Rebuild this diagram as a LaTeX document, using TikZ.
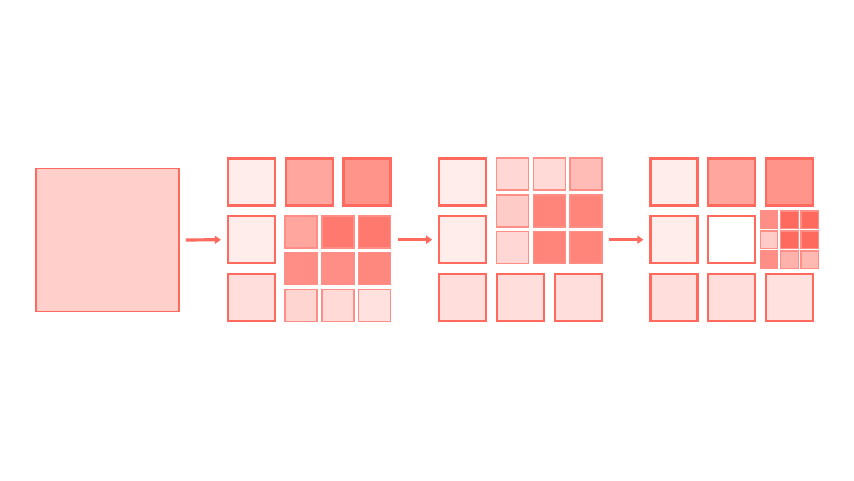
\documentclass[tikz,border=0pt]{standalone}
\usepackage{tikz}
\usetikzlibrary{arrows.meta}
\definecolor{coral}{HTML}{FF6A5E}

\begin{document}
\begin{tikzpicture}[x=1pt, y=-1pt,
    cell/.style={draw=coral, line width=2.2pt, minimum size=47pt, inner sep=0pt},
    subcell/.style={draw=coral!75, line width=1.4pt, minimum size=32pt, inner sep=0pt},
    tinycell/.style={draw=coral!75, line width=1.3pt, minimum size=17.5pt, inner sep=0pt},
    flow/.style={draw=coral, line width=3.2pt, -{Triangle[length=6pt,width=8pt]}, shorten <=6pt, shorten >=6pt}]
    \useasboundingbox (0,0) rectangle (854,480);
    % input block
    \node[draw=coral, line width=1.9pt, fill=coral!32, minimum size=143pt, inner sep=0pt] (big) at (107.5,240) {};
    % first grid
    \foreach \x/\y/\s/\n in {251.5/182/12/ga11, 309.2/182/60/ga12, 366.9/182/72/ga13,
        251.5/239.7/12/ga21, 251.5/297.4/22/ga31}
      \node[cell, fill=coral!\s] (\n) at (\x,\y) {};
    \foreach \x/\y/\s/\n in {301/231.8/60/gas11, 337.8/231.8/90/gas12, 374.5/231.8/90/gas13,
        301/268.5/75/gas21, 337.8/268.5/75/gas22, 374.5/268.5/80/gas23,
        301/305.3/28/gas31, 337.8/305.3/25/gas32, 374.5/305.3/20/gas33}
      \node[subcell, fill=coral!\s] (\n) at (\x,\y) {};
    % second grid
    \foreach \x/\y/\s/\n in {462.8/182/12/gb11, 462.8/239.7/12/gb21,
        462.8/297.4/22/gb31, 520.5/297.4/22/gb32, 578.2/297.4/22/gb33}
      \node[cell, fill=coral!\s] (\n) at (\x,\y) {};
    \foreach \x/\y/\s/\n in {512.5/173.8/27/gbs11, 549.2/173.8/25/gbs12, 586/173.8/45/gbs13,
        512.5/210.8/35/gbs21, 549.2/210.8/82/gbs22, 586/210.8/82/gbs23,
        512.5/247.7/27/gbs31, 549.2/247.7/82/gbs32, 586/247.7/82/gbs33}
      \node[subcell, fill=coral!\s] (\n) at (\x,\y) {};
    % third grid
    \foreach \x/\y/\s/\n in {674/182/12/gc11, 731.6/182/60/gc12, 789.3/182/72/gc13,
        674/239.7/12/gc21, 731.6/239.7/0/gc22,
        674/297.4/22/gc31, 731.6/297.4/22/gc32, 789.3/297.4/20/gc33}
      \node[cell, fill=coral!\s] (\n) at (\x,\y) {};
    \foreach \x/\y/\s/\n in {769/219.7/75/gcs11, 789.4/219.7/100/gcs12, 809.7/219.7/100/gcs13,
        769/239.7/35/gcs21, 789.4/239.7/100/gcs22, 809.7/239.7/100/gcs23,
        769/259.7/75/gcs31, 789.4/259.7/52/gcs32, 809.7/259.7/47/gcs33}
      \node[tinycell, fill=coral!\s] (\n) at (\x,\y) {};
    % arrows
    \draw[flow] (big.east) -- (ga21.west);
    \draw[flow] (gb21.west -| ga13.east) -- (gb21.west);
    \draw[flow] (gc21.west -| gb33.east) -- (gc21.west);
\end{tikzpicture}
\end{document}
